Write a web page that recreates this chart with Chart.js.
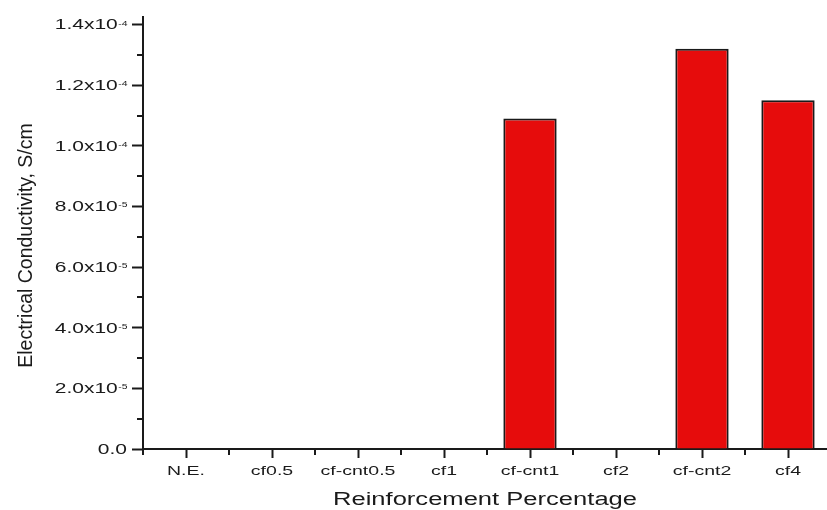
<!DOCTYPE html>
<html>
<head>
<meta charset="utf-8">
<script src="https://cdn.jsdelivr.net/npm/chart.js@4.4.1/dist/chart.umd.min.js"></script>
<style>
  html, body { margin: 0; padding: 0; background: #fff; overflow: hidden; }
  #wrap { width: 831px; height: 510px; }
</style>
</head>
<body>
<div id="wrap"><canvas id="c" width="831" height="510"></canvas></div>
<script>
// Samples and measured conductivity (S/cm)
const categories = ['N.E.', 'cf0.5', 'cf-cnt0.5', 'cf1', 'cf-cnt1', 'cf2', 'cf-cnt2', 'cf4'];
const conductivity = [0, 0, 0, 0, 1.09e-4, 0, 1.32e-4, 1.15e-4];

// Labelled y ticks, written as mantissa x 10^exponent
const yTickValues = [0, 2e-5, 4e-5, 6e-5, 8e-5, 1.0e-4, 1.2e-4, 1.4e-4];
const yTickMantissas = ['0.0', '2.0', '4.0', '6.0', '8.0', '1.0', '1.2', '1.4'];
const yTickExponents = ['', '-5', '-5', '-5', '-5', '-4', '-4', '-4'];

const xTitle = 'Reinforcement Percentage';
const yTitle = 'Electrical Conductivity, S/cm';

const FONT = '"Liberation Sans", Arial, Helvetica, sans-serif';
const INK = '#1a1a1a';

// Text in this figure is drawn wide; sx widens glyphs horizontally.
function wideText(ctx, text, x, y, size, sx, align, baseline) {
  ctx.save();
  ctx.font = size + 'px ' + FONT;
  ctx.translate(x, y);
  ctx.scale(sx, 1);
  ctx.textAlign = align;
  ctx.textBaseline = baseline;
  ctx.fillText(text, 0, 0);
  ctx.restore();
}
function wideWidth(ctx, text, size, sx) {
  ctx.save();
  ctx.font = size + 'px ' + FONT;
  const w = ctx.measureText(text).width * sx;
  ctx.restore();
  return w;
}

const axisDecor = {
  id: 'axisDecor',
  afterDraw(chart) {
    const ctx = chart.ctx;
    const xs = chart.scales.x, ys = chart.scales.y;
    ctx.save();
    ctx.strokeStyle = INK;
    ctx.fillStyle = INK;
    ctx.lineWidth = 2;

    // minor y ticks halfway between labelled ticks
    for (let i = 0; i < yTickValues.length - 1; i++) {
      const y = Math.round(ys.getPixelForValue((yTickValues[i] + yTickValues[i + 1]) / 2));
      ctx.beginPath();
      ctx.moveTo(ys.right - 6, y);
      ctx.lineTo(ys.right, y);
      ctx.stroke();
    }
    // minor x ticks on category boundaries
    const n = categories.length;
    const bounds = [xs.left];
    for (let i = 1; i < n; i++) bounds.push((xs.getPixelForValue(i - 1) + xs.getPixelForValue(i)) / 2);
    bounds.push(xs.right);
    bounds.forEach(b => {
      const x = Math.round(b);
      ctx.beginPath();
      ctx.moveTo(x, xs.top);
      ctx.lineTo(x, xs.top + 6);
      ctx.stroke();
    });

    // y tick labels with raised exponents
    const rightEdge = ys.right - 16;
    yTickValues.forEach((v, i) => {
      const y = ys.getPixelForValue(v);
      const main = yTickExponents[i] ? yTickMantissas[i] + 'x10' : yTickMantissas[i];
      const sup = yTickExponents[i];
      const wSup = sup ? wideWidth(ctx, sup, 8, 1.3) : 0;
      const wMain = wideWidth(ctx, main, 14, 1.5);
      const x0 = rightEdge - wSup - wMain;
      wideText(ctx, main, x0, y + 1, 14, 1.5, 'left', 'middle');
      if (sup) wideText(ctx, sup, x0 + wMain + 0.5, y + 1, 8, 1.3, 'left', 'alphabetic');
    });

    // x tick labels
    categories.forEach((c, i) => {
      wideText(ctx, c, xs.getPixelForValue(i), 471, 13, 1.5, 'center', 'middle');
    });

    // axis titles
    wideText(ctx, xTitle, (chart.chartArea.left + chart.chartArea.right) / 2 - 2, 505, 18, 1.42, 'center', 'alphabetic');
    ctx.save();
    ctx.translate(32, 245.5);
    ctx.rotate(-Math.PI / 2);
    ctx.font = '19.5px ' + FONT;
    ctx.textAlign = 'center';
    ctx.textBaseline = 'alphabetic';
    ctx.fillText(yTitle, 0, 0);
    ctx.restore();

    ctx.restore();
  }
};

new Chart(document.getElementById('c'), {
  type: 'bar',
  data: {
    labels: categories,
    datasets: [{
      data: conductivity,
      backgroundColor: '#e60c0c',
      borderColor: INK,
      borderWidth: 2,
      barPercentage: 0.62,
      categoryPercentage: 1.0
    }]
  },
  options: {
    responsive: false,
    animation: false,
    devicePixelRatio: 1,
    layout: { padding: { top: 17, left: 0, right: 0, bottom: 0 } },
    plugins: { legend: { display: false }, tooltip: { enabled: false } },
    scales: {
      x: {
        offset: true,
        grid: { display: true, offset: false, drawOnChartArea: false, drawTicks: true, tickLength: 9, tickWidth: 2, tickColor: INK },
        border: { display: true, color: INK, width: 2 },
        ticks: { display: false },
        afterFit(scale) { scale.height = 61; }
      },
      y: {
        min: 0,
        max: 1.425e-4,
        afterBuildTicks(scale) { scale.ticks = yTickValues.map(v => ({ value: v })); },
        grid: { display: true, drawOnChartArea: false, drawTicks: true, tickLength: 11, tickWidth: 2, tickColor: INK },
        border: { display: true, color: INK, width: 2 },
        ticks: { display: false },
        afterFit(scale) { scale.width = 143; }
      }
    }
  },
  plugins: [axisDecor]
});
</script>
</body>
</html>
